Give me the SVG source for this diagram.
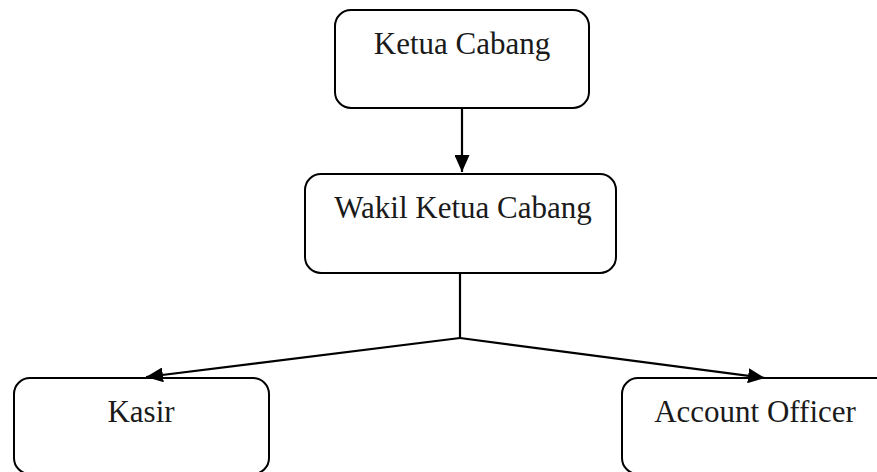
<svg xmlns="http://www.w3.org/2000/svg" width="877" height="472" viewBox="0 0 877 472">
<style>
.box{fill:#fff;stroke:#000;stroke-width:2}
.lbl{font-family:"Liberation Serif","Times New Roman",serif;font-size:31px;fill:#1a1a1a;text-anchor:middle}
.con{fill:none;stroke:#000;stroke-width:2.2}
</style>
<defs>
<marker id="arr" viewBox="0 0 17 15" refX="17" refY="7.5" markerWidth="17" markerHeight="15" markerUnits="userSpaceOnUse" orient="auto">
<path d="M0,0 L17,7.5 L0,15 Z" fill="#000"/>
</marker>
</defs>
<g id="ketua-cabang">
<rect class="box" x="335" y="10" width="254" height="98" rx="16"/>
<text class="lbl" x="462" y="54">Ketua Cabang</text>
</g>
<g id="wakil-ketua-cabang">
<rect class="box" x="305" y="174" width="311" height="99" rx="16"/>
<text class="lbl" x="463" y="218">Wakil Ketua Cabang</text>
</g>
<g id="kasir">
<rect class="box" x="14" y="378" width="255" height="96" rx="16"/>
<text class="lbl" x="141" y="422">Kasir</text>
</g>
<g id="account-officer">
<rect class="box" x="622" y="378" width="280" height="96" rx="16"/>
<text class="lbl" x="755" y="422">Account Officer</text>
</g>
<g id="connectors">
<line class="con" x1="462" y1="108" x2="462" y2="172" marker-end="url(#arr)"/>
<polyline class="con" points="460,273 460,338"/>
<line class="con" x1="460" y1="338" x2="146" y2="377" marker-end="url(#arr)"/>
<line class="con" x1="460" y1="338" x2="765" y2="378" marker-end="url(#arr)"/>
</g>
</svg>
